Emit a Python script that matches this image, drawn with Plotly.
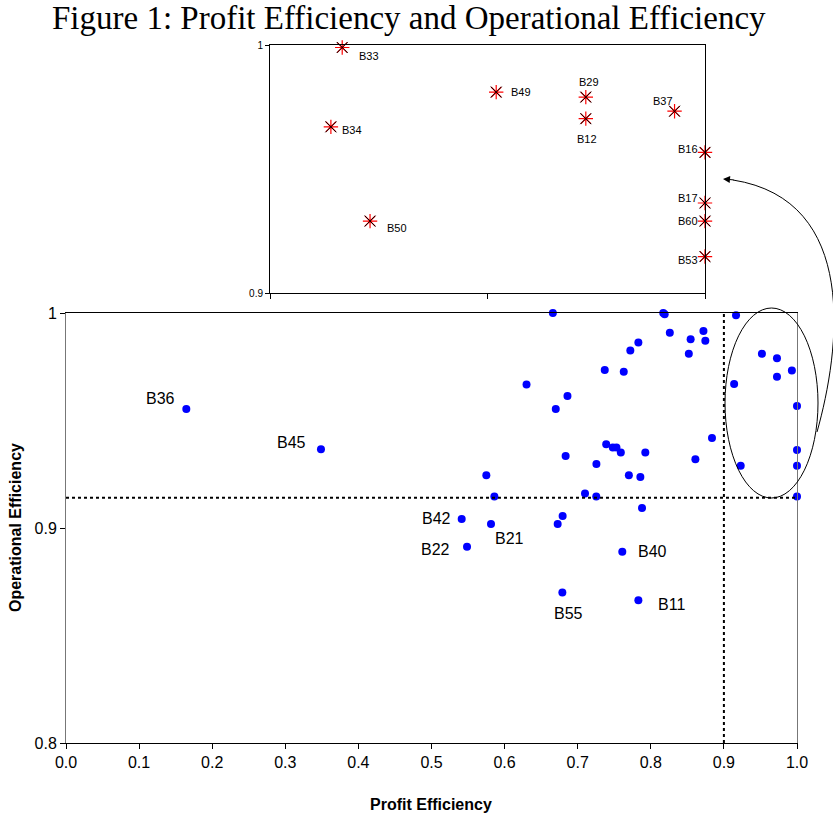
import plotly.graph_objects as go

# ---------------- data ----------------
banks = ["", "", "", "B33", "", "", "", "", "", "", "", "", "", "", "", "",
         "B49", "B29", "B37", "B12", "B34", "B16", "B17", "B50", "B60", "B53",
         "", "", "", "", "", "", "", "", "", "", "", "", "", "", "", "",
         "B42", "B21", "", "", "B22", "B40", "B55", "B11", "B36", "B45"]
profit_eff = [0.666, 0.817, 0.819, 0.9166, 0.826, 0.872, 0.8545, 0.8746, 0.852, 0.783,
              0.772, 0.737, 0.763, 0.630, 0.686, 0.670,
              0.952, 0.9726, 0.993, 0.9726, 0.914, 1.0, 1.0, 0.923, 1.0, 1.0,
              0.8837, 0.861, 0.739, 0.748, 0.753, 0.759, 0.7925, 0.6835, 0.7256, 0.770,
              0.7857, 0.575, 0.586, 0.710, 0.7254, 0.788,
              0.5413, 0.5814, 0.6794, 0.6726, 0.5486, 0.761, 0.679, 0.783, 0.1646, 0.3488]
oper_eff = [1.000, 1.000, 0.9994, 0.999, 0.9908, 0.9916, 0.9878, 0.9871, 0.981, 0.9863,
            0.9826, 0.9735, 0.9727, 0.9667, 0.9614, 0.9553,
            0.981, 0.979, 0.9733, 0.9703, 0.967, 0.9567, 0.9363, 0.929, 0.929, 0.9147,
            0.9419, 0.932, 0.9389, 0.9375, 0.9375, 0.9351, 0.9351, 0.9335, 0.9298, 0.9245,
            0.9237, 0.9245, 0.9147, 0.9161, 0.9147, 0.9093,
            0.9042, 0.9019, 0.9056, 0.9019, 0.8913, 0.889, 0.870, 0.8664, 0.9553, 0.9366]

main_labels = ["B36", "B45", "B42", "B22", "B21", "B40", "B55", "B11"]
inset_labels = ["B33", "B49", "B29", "B12", "B37", "B16", "B17", "B60", "B53", "B34", "B50"]

oe_threshold = 0.9141
pe_threshold = 0.9

x_ticks = [0.0, 0.1, 0.2, 0.3, 0.4, 0.5, 0.6, 0.7, 0.8, 0.9, 1.0]
x_ticktext = ["0.0", "0.1", "0.2", "0.3", "0.4", "0.5", "0.6", "0.7", "0.8", "0.9", "1.0"]
y_ticks = [0.8, 0.9, 1.0]
y_ticktext = ["0.8", "0.9", "1"]
inset_y_ticks = [0.9, 1.0]
inset_y_ticktext = ["0.9", "1"]

title_text = "Figure 1: Profit Efficiency and Operational Efficiency"
x_title = "Profit Efficiency"
y_title = "Operational Efficiency"

# label offsets (pixels): anchor, xshift, yshift
main_offsets = {
    "B36": ("right", -9, 11), "B45": ("right", -13, 7), "B42": ("right", -9, 0),
    "B22": ("right", -15, -3), "B21": ("left", 2, -15), "B40": ("left", 14, 0),
    "B55": ("center", 6, -21), "B11": ("left", 18, -4),
}
inset_offsets = {
    "B33": ("left", 15, -9), "B49": ("left", 13, 0), "B29": ("center", 3, 15),
    "B12": ("center", 1, -20), "B37": ("right", 0, 10), "B16": ("right", -5, 3),
    "B17": ("right", -5, 5), "B60": ("right", -5, 0), "B53": ("right", -5, -3),
    "B34": ("left", 9, -3), "B50": ("left", 15, -7),
}

# ---------------- figure ----------------
W, H = 833, 813
ml, mr, mt, mb = 66, 36, 45, 70
pw, ph = W - ml - mr, H - mt - mb


def px2paper(px, py):
    return (px - ml) / pw, (H - mb - py) / ph


main_top = px2paper(0, 313)[1]
inset_x0, inset_y0 = px2paper(270, 293)
inset_x1, inset_y1 = px2paper(705, 45)

fig = go.Figure()

fig.add_trace(go.Scatter(
    x=profit_eff, y=oper_eff, mode="markers",
    marker=dict(color="#0000FF", size=8), cliponaxis=False,
    xaxis="x", yaxis="y", showlegend=False))

ins_x = [profit_eff[banks.index(b)] for b in inset_labels]
ins_y = [oper_eff[banks.index(b)] for b in inset_labels]
fig.add_trace(go.Scatter(
    x=ins_x, y=ins_y, mode="markers",
    marker=dict(symbol="asterisk-open", size=12, color="#FF0000",
                line=dict(color="#FF0000", width=1.2)),
    cliponaxis=False, xaxis="x2", yaxis="y2", showlegend=False))
fig.add_trace(go.Scatter(
    x=ins_x, y=ins_y, mode="markers",
    marker=dict(symbol="x-thin-open", size=11, color="black",
                line=dict(color="black", width=1)),
    cliponaxis=False, xaxis="x2", yaxis="y2", showlegend=False))

annotations = []
for b in main_labels:
    i = banks.index(b)
    anc, xs, ys = main_offsets[b]
    annotations.append(dict(x=profit_eff[i], y=oper_eff[i], xref="x", yref="y",
                            text=b, showarrow=False, xanchor=anc, yanchor="middle",
                            xshift=xs, yshift=ys,
                            font=dict(family="Liberation Sans, Arial", size=16, color="black")))
for b in inset_labels:
    i = banks.index(b)
    anc, xs, ys = inset_offsets[b]
    annotations.append(dict(x=profit_eff[i], y=oper_eff[i], xref="x2", yref="y2",
                            text=b, showarrow=False, xanchor=anc, yanchor="middle",
                            xshift=xs, yshift=ys,
                            font=dict(family="Liberation Sans, Arial", size=11, color="black")))

tx, ty = px2paper(409, 18)
annotations.append(dict(x=tx, y=ty, xref="paper", yref="paper", text=title_text,
                        showarrow=False, xanchor="center", yanchor="middle",
                        font=dict(family="Liberation Serif, DejaVu Serif, serif", size=33, color="black")))
xtx, xty = px2paper(431, 804)
annotations.append(dict(x=xtx, y=xty, xref="paper", yref="paper", text="<b>" + x_title + "</b>",
                        showarrow=False, xanchor="center", yanchor="middle",
                        font=dict(family="Liberation Sans, Arial", size=16, color="black")))
ytx, yty = px2paper(15, 528)
annotations.append(dict(x=ytx, y=yty, xref="paper", yref="paper", text="<b>" + y_title + "</b>",
                        showarrow=False, xanchor="center", yanchor="middle", textangle=-90,
                        font=dict(family="Liberation Sans, Arial", size=16, color="black")))

# arrowhead
ahx, ahy = px2paper(723, 179)
annotations.append(dict(x=ahx, y=ahy, xref="paper", yref="paper", text="", showarrow=True,
                        ax=12, ay=1, axref="pixel", ayref="pixel",
                        arrowhead=2, arrowsize=1.4, arrowwidth=1, arrowcolor="black"))

shapes = []
# threshold lines
shapes.append(dict(type="line", xref="x", yref="y", x0=0, x1=1, y0=oe_threshold, y1=oe_threshold,
                   line=dict(color="black", width=2, dash="3px,3px")))
shapes.append(dict(type="line", xref="x", yref="y", x0=pe_threshold, x1=pe_threshold, y0=0.8, y1=1.0,
                   line=dict(color="black", width=2, dash="3px,3px")))
# ellipse
ex0, ey0 = px2paper(725, 498)
ex1, ey1 = px2paper(818, 308)
shapes.append(dict(type="circle", xref="paper", yref="paper", x0=ex0, x1=ex1, y0=ey0, y1=ey1,
                   line=dict(color="black", width=1)))
# curved connector
pts = [px2paper(817, 432), px2paper(840, 350), px2paper(860, 200), px2paper(733, 180)]
path = "M {:.4f},{:.4f} C {:.4f},{:.4f} {:.4f},{:.4f} {:.4f},{:.4f}".format(
    *[c for p in pts for c in p])
shapes.append(dict(type="path", xref="paper", yref="paper", path=path,
                   line=dict(color="black", width=1)))

tickfont = dict(family="Liberation Sans, Arial", size=16, color="black")

fig.update_layout(
    width=W, height=H,
    margin=dict(l=ml, r=mr, t=mt, b=mb),
    paper_bgcolor="white", plot_bgcolor="white",
    xaxis=dict(domain=[0, 1], range=[0, 1], tickvals=x_ticks, ticktext=x_ticktext,
               showgrid=False, zeroline=False, showline=True, linecolor="black", linewidth=1,
               mirror=True, ticks="outside", ticklen=5, tickcolor="black", tickfont=tickfont,
               anchor="y"),
    yaxis=dict(domain=[0, main_top], range=[0.8, 1.0], tickvals=y_ticks, ticktext=y_ticktext,
               showgrid=False, zeroline=False, showline=True, linecolor="#777777", linewidth=1,
               mirror=True, ticks="outside", ticklen=5, tickcolor="black", tickfont=tickfont,
               anchor="x"),
    xaxis2=dict(domain=[inset_x0, inset_x1], range=[0.9, 1.0], tickvals=[0.9, 0.95, 1.0],
                showticklabels=False, showgrid=False, zeroline=False, showline=True,
                linecolor="black", linewidth=1, mirror=True, ticks="outside", ticklen=5,
                tickcolor="black", anchor="y2"),
    yaxis2=dict(domain=[inset_y0, inset_y1], range=[0.9, 1.0], tickvals=inset_y_ticks,
                ticktext=inset_y_ticktext, showgrid=False, zeroline=False, showline=True,
                linecolor="black", linewidth=1, mirror=True, ticks="outside", ticklen=4,
                tickcolor="black", anchor="x2",
                tickfont=dict(family="Liberation Sans, Arial", size=10, color="black")),
    annotations=annotations,
    shapes=shapes,
)

fig.write_html("out.html", config={"displayModeBar": False},
               post_script="document.body.style.margin='0px';document.body.style.padding='0px';")
